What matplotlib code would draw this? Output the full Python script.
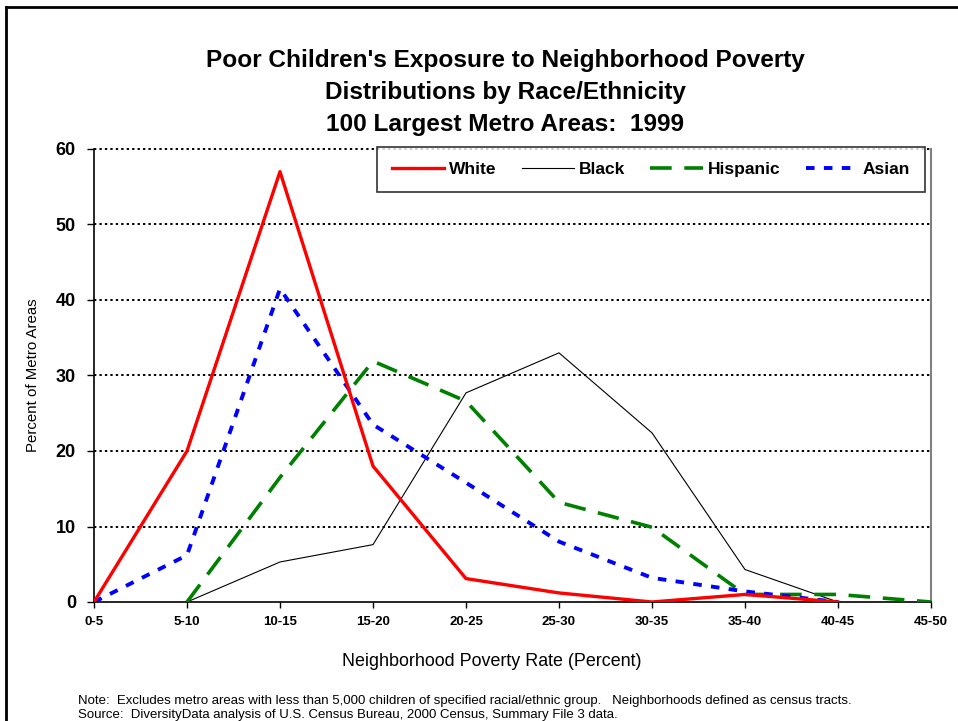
import matplotlib
matplotlib.use("Agg")
import matplotlib.pyplot as plt
from matplotlib.lines import Line2D
import numpy as np

categories = ["0-5", "5-10", "10-15", "15-20", "20-25", "25-30", "30-35", "35-40", "40-45", "45-50"]
white = [0, 20, 57, 18, 3.1, 1.2, 0, 1.0, 0, None]
black = [None, 0, 5.3, 7.6, 27.7, 33.0, 22.4, 4.3, 0, None]
hispanic = [None, 0, 16.5, 31.9, 26.6, 13.2, 9.9, 1.0, 1.0, 0]
asian = [0, 6.2, 41.5, 23.5, 15.8, 8.0, 3.2, 1.4, 0, None]
yticks = [0, 10, 20, 30, 40, 50, 60]

FONT = ["Liberation Sans", "DejaVu Sans"]
NARROW = ["Liberation Sans Narrow", "Liberation Sans", "DejaVu Sans"]
plt.rcParams['font.family'] = FONT

W, H = 958, 721
fig = plt.figure(figsize=(W/100, H/100), dpi=100)
ax = fig.add_axes([94/W, 1-602/H, (931-94)/W, (602-149)/H])

def arr(v):
    return np.array([np.nan if a is None else a for a in v], dtype=float)

x = np.arange(len(categories))
ax.plot(x, arr(white), color="#FF0000", lw=2.4, label="White", zorder=5)
ax.plot(x, arr(black), color="black", lw=0.8, label="Black", zorder=4)
ax.plot(x, arr(hispanic), color="#008000", lw=2.6, dashes=(6, 3.5), label="Hispanic", zorder=4)
ax.plot(x, arr(asian), color="#0000FF", lw=2.8, dashes=(2.2, 2.4), label="Asian", zorder=4)

ax.set_xlim(0, 9)
ax.set_ylim(0, 60)
ax.set_yticks(yticks)
ax.set_yticklabels([str(t) for t in yticks], fontsize=13, fontweight="bold")
ax.set_xticks(x)
ax.set_xticklabels(categories, fontsize=9.5, fontweight="bold")
ax.tick_params(axis="y", direction="out", length=5, width=1, pad=8)
ax.tick_params(axis="x", direction="out", length=4, width=1, pad=6)

for t in yticks[1:]:
    ax.axhline(t, color="black", lw=1.4, dashes=(1.2, 1.6), zorder=1, clip_on=False)

ax.spines["top"].set_visible(False)
ax.spines["right"].set_color("#808080")
ax.spines["right"].set_linewidth(1.5)
ax.spines["left"].set_linewidth(1.2)
ax.spines["bottom"].set_linewidth(1.2)

ax.set_ylabel("Percent of Metro Areas", fontsize=10.8)
ax.yaxis.set_label_coords((40-94)/837, 0.5)

fig.text(492/W, 1-661/H, "Neighborhood Poverty Rate (Percent)", fontsize=12.9,
         ha="center", va="center")

for yy, s in [(61, "Poor Children's Exposure to Neighborhood Poverty"),
              (93, "Distributions by Race/Ethnicity"),
              (125, "100 Largest Metro Areas:  1999")]:
    fig.text(505/W, 1-yy/H, s, fontsize=17.6, fontweight="bold", ha="center", va="center")

fig.text(78/W, 1-701/H, "Note:  Excludes metro areas with less than 5,000 children of specified racial/ethnic group.   Neighborhoods defined as census tracts.",
         fontsize=9.55, family=NARROW, ha="left", va="center")
fig.text(78/W, 1-715/H, "Source:  DiversityData analysis of U.S. Census Bureau, 2000 Census, Summary File 3 data.",
         fontsize=9.55, family=NARROW, ha="left", va="center")

leg = ax.legend(loc="upper right", bbox_to_anchor=((925-94)/837, (602-147)/453), ncol=4, frameon=True,
                fancybox=False, shadow=False, prop={"weight": "bold", "size": 12.5},
                handlelength=3.0, columnspacing=1.45, handletextpad=0.3,
                borderpad=0.85, borderaxespad=0.0)
leg.get_frame().set_edgecolor("black")
leg.get_frame().set_linewidth(1.2)
leg.set_zorder(10)

# outer border (left and top visible)
fig.add_artist(Line2D([6/W, 6/W], [0, 1-7/H], color="black", lw=2, transform=fig.transFigure))
fig.add_artist(Line2D([6/W, 1], [1-7/H, 1-7/H], color="black", lw=2, transform=fig.transFigure))

fig.savefig("out.png", dpi=100)
